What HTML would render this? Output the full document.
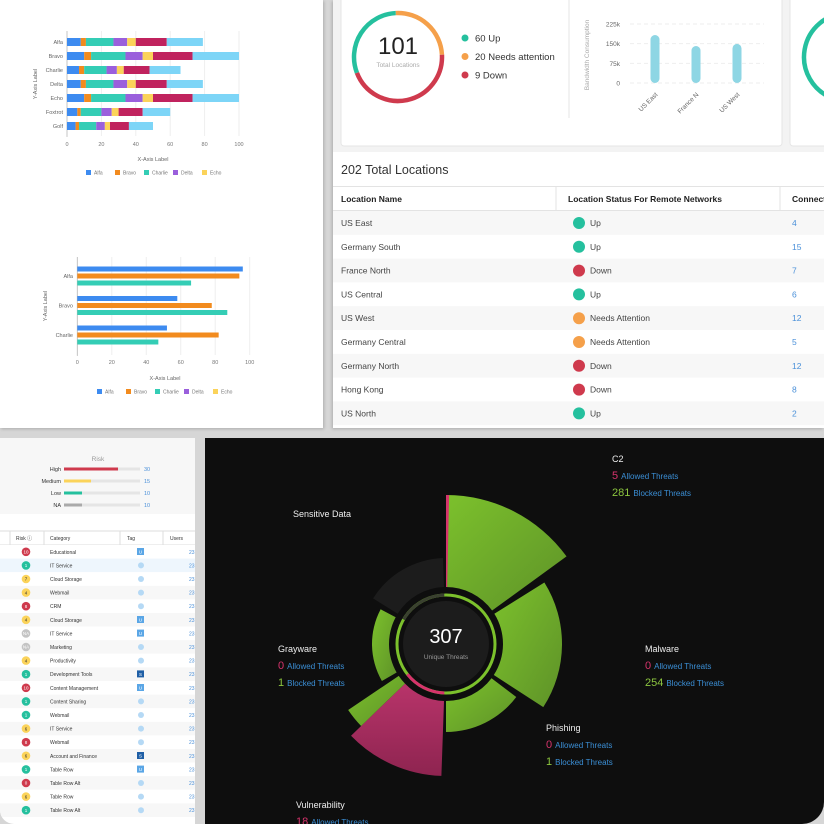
<!DOCTYPE html>
<html><head><meta charset="utf-8">
<style>
*{margin:0;padding:0;box-sizing:border-box}
body{width:824px;height:824px;overflow:hidden;background:#d6d6d6;font-family:"Liberation Sans",sans-serif;position:relative}
.abs{position:absolute}
svg text{font-family:"Liberation Sans",sans-serif}
</style></head><body>
<div class="abs" style="left:0;top:0;width:323px;height:428px;background:#fff;box-shadow:1px 1px 3px rgba(0,0,0,.2)">
<svg id="c1" width="323" height="428"></svg></div>

<div class="abs" style="left:333px;top:0;width:491px;height:428px;background:#f3f3f3;box-shadow:-1px 1px 3px rgba(0,0,0,.2)">
<svg id="c2" width="491" height="428"></svg></div>

<div class="abs" style="left:0;top:438px;width:195px;height:386px;background:#fff;border-bottom-left-radius:14px;overflow:hidden">
<svg id="c3" width="195" height="386"></svg></div>

<div class="abs" style="left:205px;top:438px;width:619px;height:386px;background:#0e0e0e;border-bottom-right-radius:22px;overflow:hidden">
<svg id="c4" width="619" height="386"></svg></div>

<script>
// ---------- Chart 1: stacked bars ----------
const stackCats=["Alfa","Bravo","Charlie","Delta","Echo","Foxtrot","Golf"];
const stackS1=[8,10,7,8,10,6,5];
const stackS2=[3,4,3,3,4,2,2];
const stackS3=[16,20,13,16,20,12,10];
const stackS4=[8,10,6,8,10,6,5];
const stackS5=[5,6,4,5,6,4,3];
const stackS6=[18,23,15,18,23,14,11];
const stackS7=[21,27,18,21,27,16,14];
const xTicks=[0,20,40,60,80,100];
const legendNames=["Alfa","Bravo","Charlie","Delta","Echo"];
// ---------- Chart 2: grouped bars ----------
const groupCats=["Alfa","Bravo","Charlie"];
const groupS1=[96,58,52];
const groupS2=[94,78,82];
const groupS3=[66,87,47];
// ---------- Donut / bandwidth ----------
const statusLabels=["60 Up","20 Needs attention","9 Down"];
const statusVals=[60,20,9];
const ringShare=[30,25,45];
const bwCats=["US East","France N","US West"];
const bwVals=[183000,141000,149000];
const bwTicks=[0,75000,150000,225000];
const bwTickLabels=["0","75k","150k","225k"];
// ---------- Locations table ----------
const locNames=["US East","Germany South","France North","US Central","US West","Germany Central","Germany North","Hong Kong","US North"];
const locStatus=["Up","Up","Down","Up","Needs Attention","Needs Attention","Down","Down","Up"];
const locConn=[4,15,7,6,12,5,12,8,2];
// ---------- Risk ----------
const riskLabels=["High","Medium","Low","NA"];
const riskVals=[30,15,10,10];
const riskCounts=[30,15,10,10];
const rowRisk=[10,1,7,4,8,4,null,null,4,1,10,1,1,6,8,6,1,0,6,1];
const rowLevel=["h","l","m","m","h","m","n","n","m","l","h","l","l","m","h","m","l","h","m","l"];
const rowCat=["Educational","IT Service","Cloud Storage","Webmail","CRM","Cloud Storage","IT Service","Marketing","Productivity","Development Tools","Content Management","Content Sharing","Webmail","IT Service","Webmail","Account and Finance","Table Row","Table Row Alt","Table Row","Table Row Alt"];
const rowTag=["U","","","","","U","U","","","S","U","","","","","S","U","","",""];
// ---------- Threats ----------
const thNames=["C2","Malware","Phishing","Vulnerability","Grayware","Sensitive Data"];
const thAllowed=[5,0,0,18,0,null];
const thBlocked=[281,254,1,null,1,null];
const thRadius=[149,116,88,132,74,86];

const NS="http://www.w3.org/2000/svg";
function E(svg,tag,at,txt){const e=document.createElementNS(NS,tag);for(const k in at)e.setAttribute(k,at[k]);if(txt!==undefined)e.textContent=txt;svg.appendChild(e);return e;}
const COLS=["#3d8bf0","#f28b1e","#34cdb5","#9a5fdc","#fbd35a","#c0235e","#7dd5f7"];

// Chart 1
(function(){
const s=document.getElementById('c1');
const x=v=>67+v*1.72;
xTicks.forEach(t=>{E(s,'line',{x1:x(t),x2:x(t),y1:31,y2:136,stroke:'#eee'});
 const tl=E(s,'text',{x:x(t),y:146,'font-size':5.5,'text-anchor':'middle',fill:'#777'},t);
 });
E(s,'line',{x1:67,x2:67,y1:31,y2:137,stroke:'#bbb','stroke-width':0.8});
const series=[stackS1,stackS2,stackS3,stackS4,stackS5,stackS6,stackS7];
stackCats.forEach((c,i)=>{const y=42+i*14;let acc=0;
 E(s,'text',{x:63,y:y+2,'font-size':5.5,'text-anchor':'end',fill:'#666'},c);
 series.forEach((sr,j)=>{const r=E(s,'rect',{x:x(acc),y:y-4,width:sr[i]*1.72,height:8,fill:COLS[j]});
  acc+=sr[i];});});
E(s,'text',{x:37,y:84,'font-size':5.5,fill:'#666','text-anchor':'middle',transform:'rotate(-90 37 84)'},'Y-Axis Label');
E(s,'text',{x:153,y:161,'font-size':5.5,fill:'#666','text-anchor':'middle'},'X-Axis Label');
function legend(y,x0){legendNames.forEach((n,i)=>{const lx=x0+i*29;E(s,'rect',{x:lx,y:y-3,width:5,height:5,fill:COLS[i]});
 const t=E(s,'text',{x:lx+8,y:y+1.5,'font-size':5,fill:'#777'},n);});}
legend(173,86);
const x2=v=>77.3+v*1.724;
xTicks.forEach(t=>{E(s,'line',{x1:x2(t),x2:x2(t),y1:257,y2:355,stroke:'#eee'});
 E(s,'text',{x:x2(t),y:364,'font-size':5.5,'text-anchor':'middle',fill:'#777'},t);});
E(s,'line',{x1:77.3,x2:77.3,y1:257,y2:356,stroke:'#bbb','stroke-width':0.8});
const gs=[groupS1,groupS2,groupS3];
groupCats.forEach((c,i)=>{const yc=276+i*29.5;
 E(s,'text',{x:73,y:yc+2,'font-size':5.5,'text-anchor':'end',fill:'#666'},c);
 gs.forEach((sr,j)=>{const r=E(s,'rect',{x:77.3,y:yc-9.5+j*7,width:sr[i]*1.724,height:5,fill:COLS[j]});
  });});
E(s,'text',{x:47,y:306,'font-size':5.5,fill:'#666','text-anchor':'middle',transform:'rotate(-90 47 306)'},'Y-Axis Label');
E(s,'text',{x:165,y:380,'font-size':5.5,fill:'#666','text-anchor':'middle'},'X-Axis Label');
legend(392,97);
})();

// Locations panel
(function(){
const s=document.getElementById('c2');
E(s,'rect',{x:8,y:-4,width:441,height:150,rx:3,fill:'#fff',stroke:'#e6e6e6'});
E(s,'rect',{x:457,y:-4,width:40,height:150,rx:3,fill:'#fff',stroke:'#e6e6e6'});
const cx=65,cy=57,r=44;const tot=ringShare.reduce((a,b)=>a+b,0);
const scol=["#25c09e","#f5a04a","#cf3a4d"];
function arc(cx,cy,r,a0,a1){const p=a=>[cx+r*Math.sin(a*Math.PI/180),cy-r*Math.cos(a*Math.PI/180)];const[x0,y0]=p(a0),[x1,y1]=p(a1);return `M${x0},${y0}A${r},${r} 0 ${a1-a0>180?1:0} 1 ${x1},${y1}`;}
const order=[1,2,0];let a=-3;
order.forEach(k=>{const sw=ringShare[k]/tot*360;const p=E(s,'path',{d:arc(cx,cy,r,a,a+sw),stroke:scol[k],'stroke-width':4.5,fill:'none'});
 a+=sw;});
E(s,'text',{x:cx,y:54,'font-size':24,'text-anchor':'middle',fill:'#222'},'101');
E(s,'text',{x:cx,y:67,'font-size':6.5,'text-anchor':'middle',fill:'#aaa'},'Total Locations');
statusLabels.forEach((l,i)=>{E(s,'circle',{cx:132,cy:38+i*18.5,r:3.5,fill:scol[i]});
 const t=E(s,'text',{x:142,y:41.5+i*18.5,'font-size':9.5,fill:'#333'},l);});
E(s,'line',{x1:236,x2:236,y1:0,y2:118,stroke:'#e6e6e6'});
E(s,'text',{x:256,y:55,'font-size':6.5,fill:'#aaa','text-anchor':'middle',transform:'rotate(-90 256 55)'},'Bandwidth Consumption');
const y=v=>83-v/225000*59;
bwTicks.forEach((t,i)=>{E(s,'line',{x1:297,x2:431,y1:y(t),y2:y(t),stroke:'#eee','stroke-dasharray':'4 3'});
 E(s,'text',{x:287,y:y(t)+2.5,'font-size':6.5,'text-anchor':'end',fill:'#666'},bwTickLabels[i]);});
bwCats.forEach((c,i)=>{const bx=322+i*41;const r=E(s,'rect',{x:bx-4.5,y:y(bwVals[i]),width:9,height:83-y(bwVals[i]),rx:4.5,fill:'#8ed6e4'});
 
 E(s,'text',{x:bx+3,y:95,'font-size':6.5,'text-anchor':'end',fill:'#666',transform:`rotate(-45 ${bx+3} 95)`},c);});
E(s,'path',{d:arc(515,57,44,200,360),stroke:'#25c09e','stroke-width':4.5,fill:'none'});
E(s,'path',{d:arc(515,57,44,180,205),stroke:'#cf3a4d','stroke-width':4.5,fill:'none'});
E(s,'rect',{x:0,y:152,width:491,height:276,fill:'#fff'});
E(s,'text',{x:8,y:174,'font-size':12.5,fill:'#333'},'202 Total Locations');
E(s,'line',{x1:0,x2:491,y1:186.5,y2:186.5,stroke:'#e3e3e3'});
E(s,'line',{x1:0,x2:491,y1:210.5,y2:210.5,stroke:'#e3e3e3'});
E(s,'line',{x1:223,x2:223,y1:187,y2:210,stroke:'#e3e3e3'});
E(s,'line',{x1:447,x2:447,y1:187,y2:210,stroke:'#e3e3e3'});
E(s,'text',{x:8,y:202,'font-size':8.5,fill:'#222','font-weight':'bold'},'Location Name');
E(s,'text',{x:235,y:202,'font-size':8.5,fill:'#222','font-weight':'bold'},'Location Status For Remote Networks');
E(s,'text',{x:459,y:202,'font-size':8.5,fill:'#222','font-weight':'bold'},'Connections');
const stc={"Up":"#25c09e","Down":"#cf3a4d","Needs Attention":"#f5a04a"};
locNames.forEach((n,i)=>{const ry=211+i*23.8;
 if(i%2==0)E(s,'rect',{x:0,y:ry,width:491,height:23.8,fill:'#f7f7f7'});
 const row=E(s,'text',{x:8,y:ry+15,'font-size':8.5,fill:'#444'},n);
 E(s,'circle',{cx:246,cy:ry+12,r:6,fill:stc[locStatus[i]]});
 E(s,'text',{x:257,y:ry+15,'font-size':8.5,fill:'#444'},locStatus[i]);
 const l=E(s,'text',{x:459,y:ry+15,'font-size':8.5,fill:'#4a90d9'},locConn[i]);});
})();

// Risk panel
(function(){
const s=document.getElementById('c3');
E(s,'rect',{x:0,y:0,width:195,height:76,fill:'#f7f7f7'});
E(s,'text',{x:98,y:23,'font-size':6.5,fill:'#999','text-anchor':'middle'},'Risk');
const rc=["#cf3a4d","#fbd35a","#25c09e","#aaa"];
riskLabels.forEach((l,i)=>{const y=31+i*12;
 E(s,'text',{x:61,y:y+2,'font-size':5.5,fill:'#333','text-anchor':'end'},l);
 E(s,'rect',{x:64,y:y-1.5,width:76,height:3,fill:'#e5e5e5'});
 const b=E(s,'rect',{x:64,y:y-1.5,width:riskVals[i]/30*54,height:3,fill:rc[i]});
 E(s,'text',{x:144,y:y+2,'font-size':5.5,fill:'#4a90d9'},riskCounts[i]);});
E(s,'rect',{x:0,y:93,width:195,height:14,fill:'#fff'});
E(s,'line',{x1:0,x2:195,y1:93,y2:93,stroke:'#ddd'});
E(s,'line',{x1:0,x2:195,y1:107,y2:107,stroke:'#ddd'});
[10,44,120,163].forEach(x=>E(s,'line',{x1:x,x2:x,y1:93,y2:107,stroke:'#ddd'}));
E(s,'text',{x:16,y:102,'font-size':5,fill:'#333'},'Risk ⓘ');
E(s,'text',{x:50,y:102,'font-size':5,fill:'#333'},'Category');
E(s,'text',{x:127,y:102,'font-size':5,fill:'#333'},'Tag');
E(s,'text',{x:170,y:102,'font-size':5,fill:'#333'},'Users');
const lc={h:"#cf3a4d",m:"#fbd35a",l:"#25c09e",n:"#c4c4c4"};
rowCat.forEach((c,i)=>{const y=107+i*13.6;
 E(s,'rect',{x:0,y:y,width:195,height:13.6,fill:i==1?'#eef6fd':(i%2?'#f7f7f7':'#fff')});
 E(s,'circle',{cx:26,cy:y+6.8,r:4.3,fill:lc[rowLevel[i]]});
 E(s,'text',{x:26,y:y+8.5,'font-size':4.5,'text-anchor':'middle',fill:rowLevel[i]=='m'?'#333':'#fff'},rowRisk[i]===null?'NA':rowRisk[i]);
 const t=E(s,'text',{x:50,y:y+8.8,'font-size':5,fill:'#333'},c);
 if(rowTag[i]){E(s,'rect',{x:137,y:y+3,width:7,height:7,fill:rowTag[i]=='S'?'#1f5fa6':'#5aa6e6'});E(s,'text',{x:140.5,y:y+8.5,'font-size':4.5,'text-anchor':'middle',fill:'#fff'},rowTag[i]);}
 else E(s,'circle',{cx:141,cy:y+6.8,r:3,fill:'#b5d9f5'});
 E(s,'text',{x:189,y:y+8.8,'font-size':5,fill:'#4a90d9'},'23');});
})();

// Threats polar chart
(function(){
const s=document.getElementById('c4');
const cx=241,cy=206;
const P=(r,a)=>[cx+r*Math.sin(a*Math.PI/180),cy-r*Math.cos(a*Math.PI/180)];
function sector(r0,r1,a0,a1){const[a,b]=P(r1,a0),[c,d]=P(r1,a1),[e,f]=P(r0,a1),[g,h]=P(r0,a0);const L=a1-a0>180?1:0;
 return `M${a},${b}A${r1},${r1} 0 ${L} 1 ${c},${d}L${e},${f}A${r0},${r0} 0 ${L} 0 ${g},${h}Z`;}
const defs=E(s,'defs',{});
const gr=E(defs,'linearGradient',{id:'gg',x1:0,y1:0,x2:1,y2:1});E(gr,'stop',{offset:0,'stop-color':'#7cc12c'});E(gr,'stop',{offset:1,'stop-color':'#5e9228'});
const pk=E(defs,'linearGradient',{id:'pk',x1:0,y1:0,x2:0,y2:1});E(pk,'stop',{offset:0,'stop-color':'#b8346a'});E(pk,'stop',{offset:1,'stop-color':'#8e2450'});
const angs=[[0,54],[58,123],[127,180],[182,226],[240,298],[302,358]];
const fills=['url(#gg)','url(#gg)','url(#gg)','url(#pk)','url(#gg)','#1c1c1c'];
thRadius.forEach((r,i)=>{const p=E(s,'path',{d:sector(57,r,angs[i][0],angs[i][1]),fill:fills[i]});
 });
E(s,'path',{d:sector(57,118,226,236),fill:'url(#gg)'});
E(s,'path',{d:sector(57,thRadius[0],0,1.2),fill:'#d6336c'});
E(s,'circle',{cx:cx,cy:cy,r:56,fill:'#0e0e0e'});
E(s,'circle',{cx:cx,cy:cy,r:49,fill:'none',stroke:'#7cc12c','stroke-width':3});
E(s,'path',{d:sector(47.5,50.5,182,232),fill:'#d6336c'});
E(s,'path',{d:sector(47.5,50.5,300,358),fill:'#3a4030'});
E(s,'circle',{cx:cx,cy:cy,r:43,fill:'#1c1c1c'});
E(s,'text',{x:cx,y:205,'font-size':20,'text-anchor':'middle',fill:'#fff'},'307');
E(s,'text',{x:cx,y:221,'font-size':6.5,'text-anchor':'middle',fill:'#999'},'Unique Threats');
const pos=[[407,24],[440,214],[341,293],[91,370],[73,214],[88,79]];
thNames.forEach((n,i)=>{const [x,y]=pos[i];
 const t=E(s,'text',{x:x,y:y,'font-size':9,fill:'#eee'},n);
 let yy=y+17;
 if(thAllowed[i]!==null){const a=E(s,'text',{x:x,y:yy,'font-size':8,fill:'#3b8fd6'});E(a,'tspan',{fill:'#d6336c','font-size':11},thAllowed[i]);E(a,'tspan',{dx:3},'Allowed Threats');yy+=17;}
 if(thBlocked[i]!==null){const b=E(s,'text',{x:x,y:yy,'font-size':8,fill:'#3b8fd6'});E(b,'tspan',{fill:'#8cc63f','font-size':11},thBlocked[i]);E(b,'tspan',{dx:3},'Blocked Threats');}
});
})();
</script>
</body></html>
